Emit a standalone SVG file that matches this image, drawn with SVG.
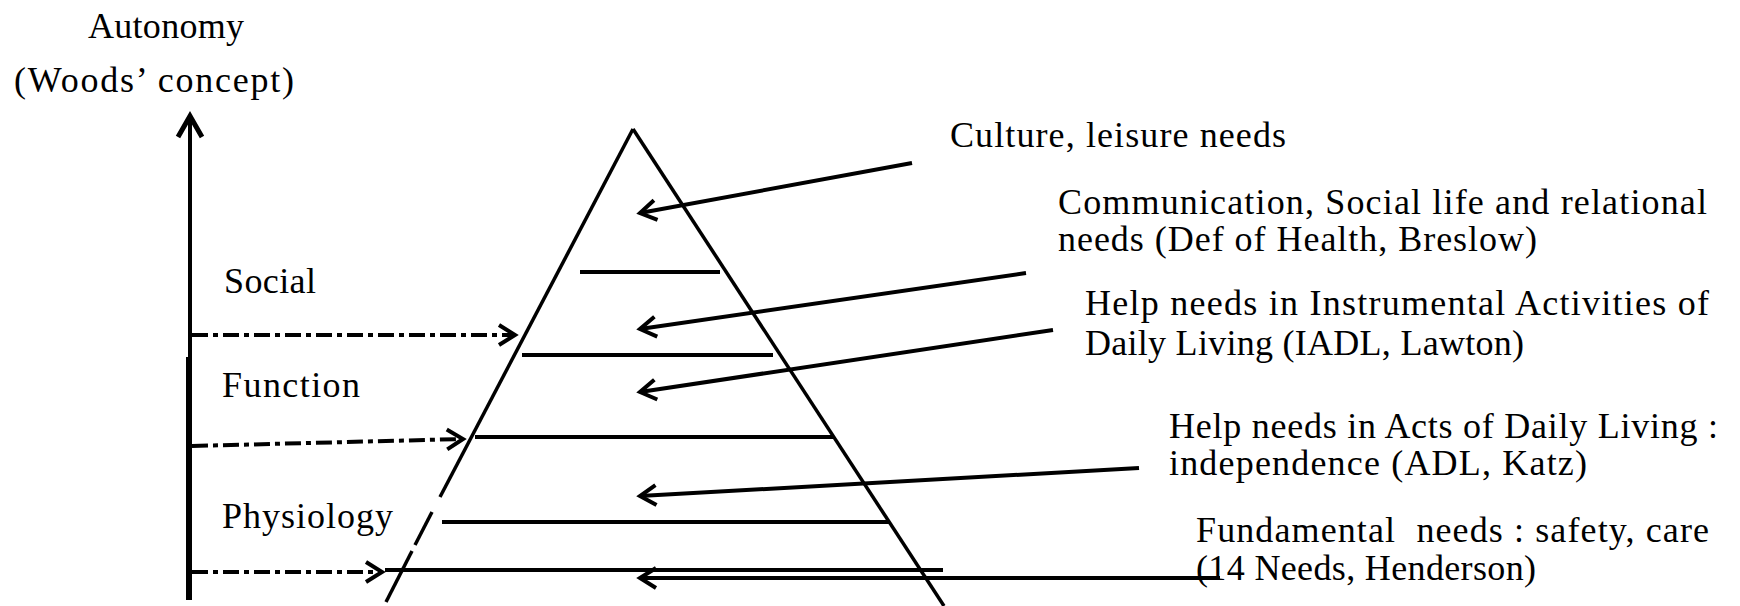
<svg xmlns="http://www.w3.org/2000/svg" width="1740" height="606" viewBox="0 0 1740 606">
<style>
text{font-family:"Liberation Serif","Times New Roman",serif;font-size:36px;fill:#000}
.ln{stroke:#000;stroke-width:4;fill:none}
.edge{stroke:#000;stroke-width:3.5;fill:none}
.dd{stroke:#000;stroke-width:4;fill:none;stroke-dasharray:16 5 5 5}
</style>
<defs>
<marker id="ah" markerUnits="userSpaceOnUse" orient="auto" overflow="visible" refX="0" refY="0">
<path d="M-16,-10 L0,0 L-16,10" stroke="#000" stroke-width="4" fill="none"/>
</marker>
<marker id="ahBig" markerUnits="userSpaceOnUse" orient="auto" overflow="visible" refX="0" refY="0">
<path d="M-21,-12 L0,0 L-21,12" stroke="#000" stroke-width="5" fill="none"/>
</marker>
</defs>
<rect width="1740" height="606" fill="#fff"/>
<g id="axis-title">
<text x="88" y="38" textLength="156" lengthAdjust="spacing">Autonomy</text>
<text x="14" y="92" textLength="280" lengthAdjust="spacing">(Woods’ concept)</text>
</g>
<g id="axis">
<line x1="190" y1="360" x2="190" y2="116" stroke="#000" stroke-width="4" marker-end="url(#ahBig)"/>
<line x1="189" y1="357" x2="189" y2="600" stroke="#000" stroke-width="6"/>
</g>
<g id="level-social"><text x="224" y="293" textLength="92" lengthAdjust="spacing">Social</text></g>
<g id="level-function"><text x="222" y="397" textLength="138" lengthAdjust="spacing">Function</text></g>
<g id="level-physiology"><text x="222" y="528" textLength="171" lengthAdjust="spacing">Physiology</text></g>
<g id="pyramid">
<line class="edge" x1="633" y1="129" x2="944" y2="606"/>
<line class="edge" x1="633" y1="129" x2="440" y2="497"/>
<line class="edge" x1="432" y1="512" x2="415" y2="545"/>
<line class="edge" x1="412" y1="551" x2="386" y2="602"/>
<line class="ln" x1="580" y1="272" x2="720" y2="272"/>
<line class="ln" x1="522" y1="355" x2="773" y2="355"/>
<line class="ln" x1="475" y1="437" x2="833" y2="437"/>
<line class="ln" x1="442" y1="522" x2="889" y2="522"/>
<line class="ln" x1="385" y1="570" x2="943" y2="570"/>
</g>
<g id="need-culture"><text x="950" y="147" textLength="336" lengthAdjust="spacing">Culture, leisure needs</text></g>
<g id="need-communication">
<text x="1058" y="214" textLength="649" lengthAdjust="spacing">Communication, Social life and relational</text>
<text x="1058" y="251" textLength="479" lengthAdjust="spacing">needs (Def of Health, Breslow)</text>
</g>
<g id="need-iadl">
<text x="1085" y="315" textLength="624" lengthAdjust="spacing">Help needs in Instrumental Activities of</text>
<text x="1085" y="355" textLength="439" lengthAdjust="spacing">Daily Living (IADL, Lawton)</text>
</g>
<g id="need-adl">
<text x="1169" y="438" textLength="549" lengthAdjust="spacing">Help needs in Acts of Daily Living :</text>
<text x="1169" y="475" textLength="418" lengthAdjust="spacing">independence (ADL, Katz)</text>
</g>
<g id="need-fundamental">
<text x="1196" y="542" xml:space="preserve" textLength="513" lengthAdjust="spacing">Fundamental  needs : safety, care</text>
<text x="1196" y="580" textLength="340" lengthAdjust="spacing">(14 Needs, Henderson)</text>
</g>
<g id="connectors">
<line class="dd" x1="192" y1="335" x2="515" y2="335" marker-end="url(#ah)"/>
<line class="dd" x1="192" y1="446" x2="463" y2="439" marker-end="url(#ah)"/>
<line class="dd" x1="192" y1="572" x2="382" y2="572" marker-end="url(#ah)"/>
<line class="ln" x1="912" y1="163" x2="640" y2="213" marker-end="url(#ah)"/>
<line class="ln" x1="1026" y1="273" x2="640" y2="329" marker-end="url(#ah)"/>
<line class="ln" x1="1053" y1="330" x2="640" y2="392" marker-end="url(#ah)"/>
<line class="ln" x1="1139" y1="468" x2="640" y2="496" marker-end="url(#ah)"/>
<line class="ln" x1="1220" y1="578" x2="640" y2="578" marker-end="url(#ah)"/>
</g>
</svg>
